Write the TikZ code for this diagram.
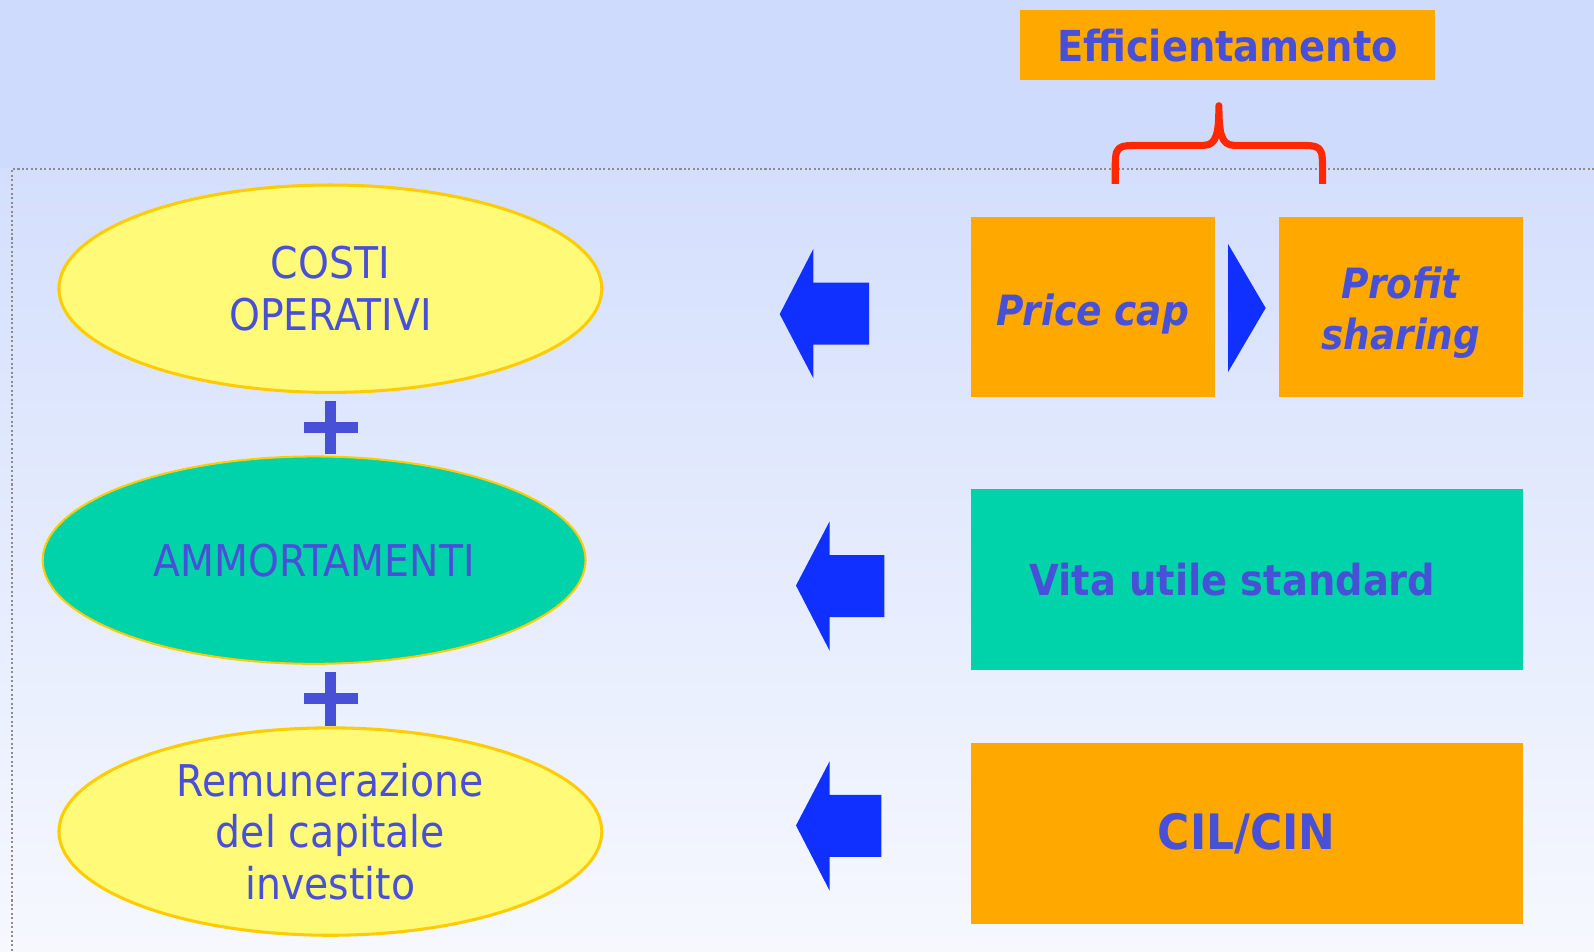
\documentclass[tikz,border=0pt]{standalone}
\usepackage{fontspec}
\setmainfont{DejaVu Sans Condensed}
\usetikzlibrary{shapes.geometric}
\definecolor{txtblue}{RGB}{72,80,216}
\definecolor{arrowblue}{RGB}{16,48,255}
\definecolor{boxorange}{RGB}{255,168,0}
\definecolor{boxteal}{RGB}{0,210,170}
\definecolor{ovalyellow}{RGB}{255,250,120}
\definecolor{ovalline}{RGB}{255,204,0}
\definecolor{bracered}{RGB}{255,40,0}
\definecolor{bgtop}{RGB}{207,219,253}
\definecolor{bgmid}{RGB}{212,223,253}
\definecolor{bgbot}{RGB}{246,248,254}
\tikzset{
  oval/.style={ellipse,draw=ovalline,line width=1.5pt,minimum width=267pt,minimum height=102pt,
    inner sep=0pt,text=txtblue,align=center,font=\fontsize{21.5}{25.5}\selectfont},
  box/.style={rectangle,inner sep=0pt,text=txtblue,align=center,font=\fontsize{21}{25}\selectfont\bfseries},
  slanted/.style={font=\fontsize{20.5}{25}\selectfont\bfseries\itshape},
}
\begin{document}
\begin{tikzpicture}[x=0.5pt,y=-0.5pt]
   \useasboundingbox (0,0) rectangle (1568,936);
   %background
   \fill[bgtop] (0,0) rectangle (1568,166);
   \shade[top color=bgmid,bottom color=bgbot] (0,166) rectangle (1568,936);
   \draw[black!45,line width=1pt,dash pattern=on 1pt off 1.2pt] (1568,166) -- (12,166) -- (12,936);
   %ovals
   \node[oval,fill=ovalyellow] (costi) at (325,284) {COSTI\\OPERATIVI};
   \node[oval,fill=boxteal,line width=1pt] (ammort) at (309,551) {AMMORTAMENTI};
   \node[oval,fill=ovalyellow] (remun) at (325,818) {Remunerazione\\del capitale\\investito};
   %plus
   \fill[txtblue] (299,415) rectangle (352,426);
   \fill[txtblue] (320,394) rectangle (331,447);
   \fill[txtblue] (299,682) rectangle (352,693);
   \fill[txtblue] (320,661) rectangle (331,714);
   %boxes
   \node[box,fill=boxorange,minimum width=204.5pt,minimum height=34.5pt] (effic) at (1207.5,44.5) {Efficientamento};
   \node[box,slanted,fill=boxorange,minimum width=120pt,minimum height=89pt,text depth=0pt] (pricecap) at (1075,302) {\raisebox{-3pt}{Price cap}};
   \node[box,slanted,fill=boxorange,minimum width=120pt,minimum height=89pt] (profit) at (1378,302) {\rule{0pt}{21.5pt}Profit\\sharing};
   \node[box,fill=boxteal,minimum width=271.5pt,minimum height=89pt] (vita) at (1226.5,570) {\raisebox{-1pt}{Vita utile standard}\hspace{14pt}};
   \node[box,fill=boxorange,minimum width=271.5pt,minimum height=89pt,font=\fontsize{24}{25}\selectfont\bfseries] (cil) at (1226.5,820) {CIL/CIN};
   %brace
   \draw[bracered,line width=3.5pt,line join=round]
     (1097,181) -- (1097,170) .. controls (1097,143) .. (1124,143) -- (1184,143)
     .. controls (1197,143) and (1199,130) .. (1199,104)
     .. controls (1199,130) and (1201,143) .. (1214,143) -- (1274,143)
     .. controls (1301,143) .. (1301,170) -- (1301,181);
   %arrows
   \fill[arrowblue] (767,309) -- (800,245) -- (800,278) -- (855,278) -- (855,339) -- (800,339) -- (800,372) -- cycle;
   \fill[arrowblue] (783,576) -- (816,513) -- (816,546) -- (870,546) -- (870,607) -- (816,607) -- (816,640) -- cycle;
   \fill[arrowblue] (783,812) -- (816,749) -- (816,782) -- (867,782) -- (867,843) -- (816,843) -- (816,876) -- cycle;
   \fill[arrowblue] (1208,240) -- (1245,303) -- (1208,366) -- cycle;
\end{tikzpicture}
\end{document}
